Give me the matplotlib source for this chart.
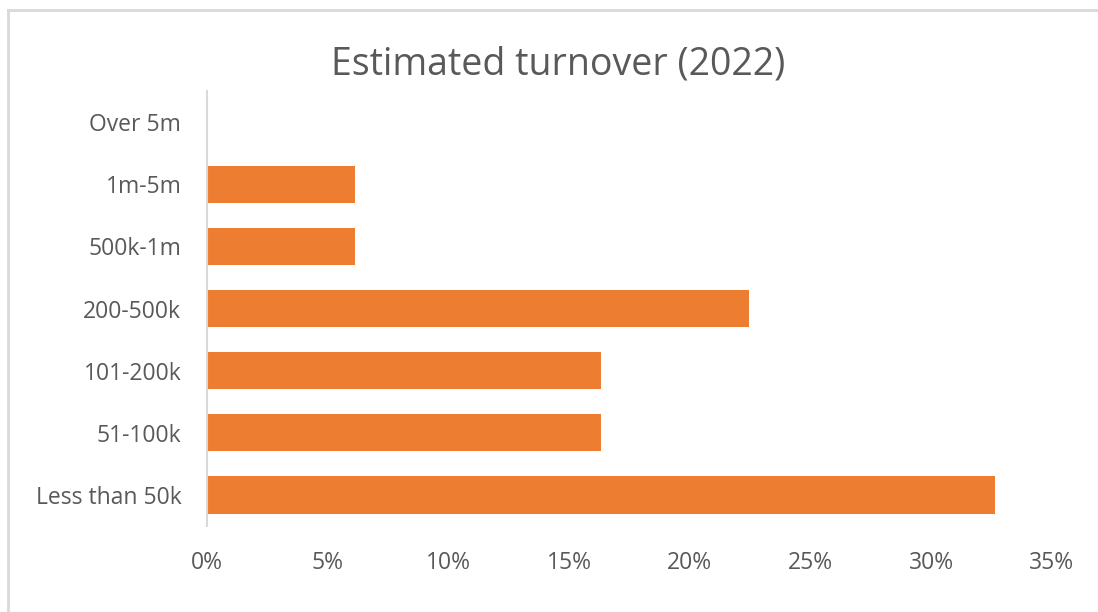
import matplotlib.pyplot as plt
from matplotlib.lines import Line2D
from matplotlib.ticker import FuncFormatter

categories = ['Less than 50k', '51-100k', '101-200k', '200-500k', '500k-1m', '1m-5m', 'Over 5m']
shares = [16 / 49, 8 / 49, 8 / 49, 11 / 49, 3 / 49, 3 / 49, 0.0]
x_ticks = [0, 0.05, 0.10, 0.15, 0.20, 0.25, 0.30, 0.35]

plt.rcParams['font.family'] = ['Open Sans', 'DejaVu Sans']
grey = '#595959'

fig = plt.figure(figsize=(10.98, 6.12), dpi=100)
ax = fig.add_axes([207 / 1098, 1 - 526 / 612, (1052 - 207) / 1098, (526 - 91) / 612])

ax.barh(range(len(categories)), shares, height=0.6, color='#ED7D31')
ax.set_ylim(-0.5, len(categories) - 0.5)
ax.set_xlim(0, 0.35)
ax.set_yticks(range(len(categories)))
ax.set_yticklabels(categories)
ax.set_xticks(x_ticks)
ax.xaxis.set_major_formatter(FuncFormatter(lambda v, p: f'{v * 100:.0f}%'))
ax.tick_params(length=0, labelsize=16.5, colors=grey)
ax.tick_params(axis='x', pad=18)
ax.tick_params(axis='y', pad=18.5)
for s in ['top', 'right', 'bottom']:
    ax.spines[s].set_visible(False)
ax.spines['left'].set_color('#D9D9D9')
ax.spines['left'].set_linewidth(1.5)

fig.text(558 / 1098, 1 - 64 / 612, 'Estimated turnover (2022)', ha='center', va='center',
         fontsize=27, color=grey)

# chart frame (only top and left edges show)
fig.add_artist(Line2D([8 / 1098, 1], [1 - 10 / 612] * 2, color='#D9D9D9', lw=2))
fig.add_artist(Line2D([8 / 1098] * 2, [0, 1 - 10 / 612], color='#D9D9D9', lw=2))

fig.savefig('out.png', dpi=100, facecolor='white')
